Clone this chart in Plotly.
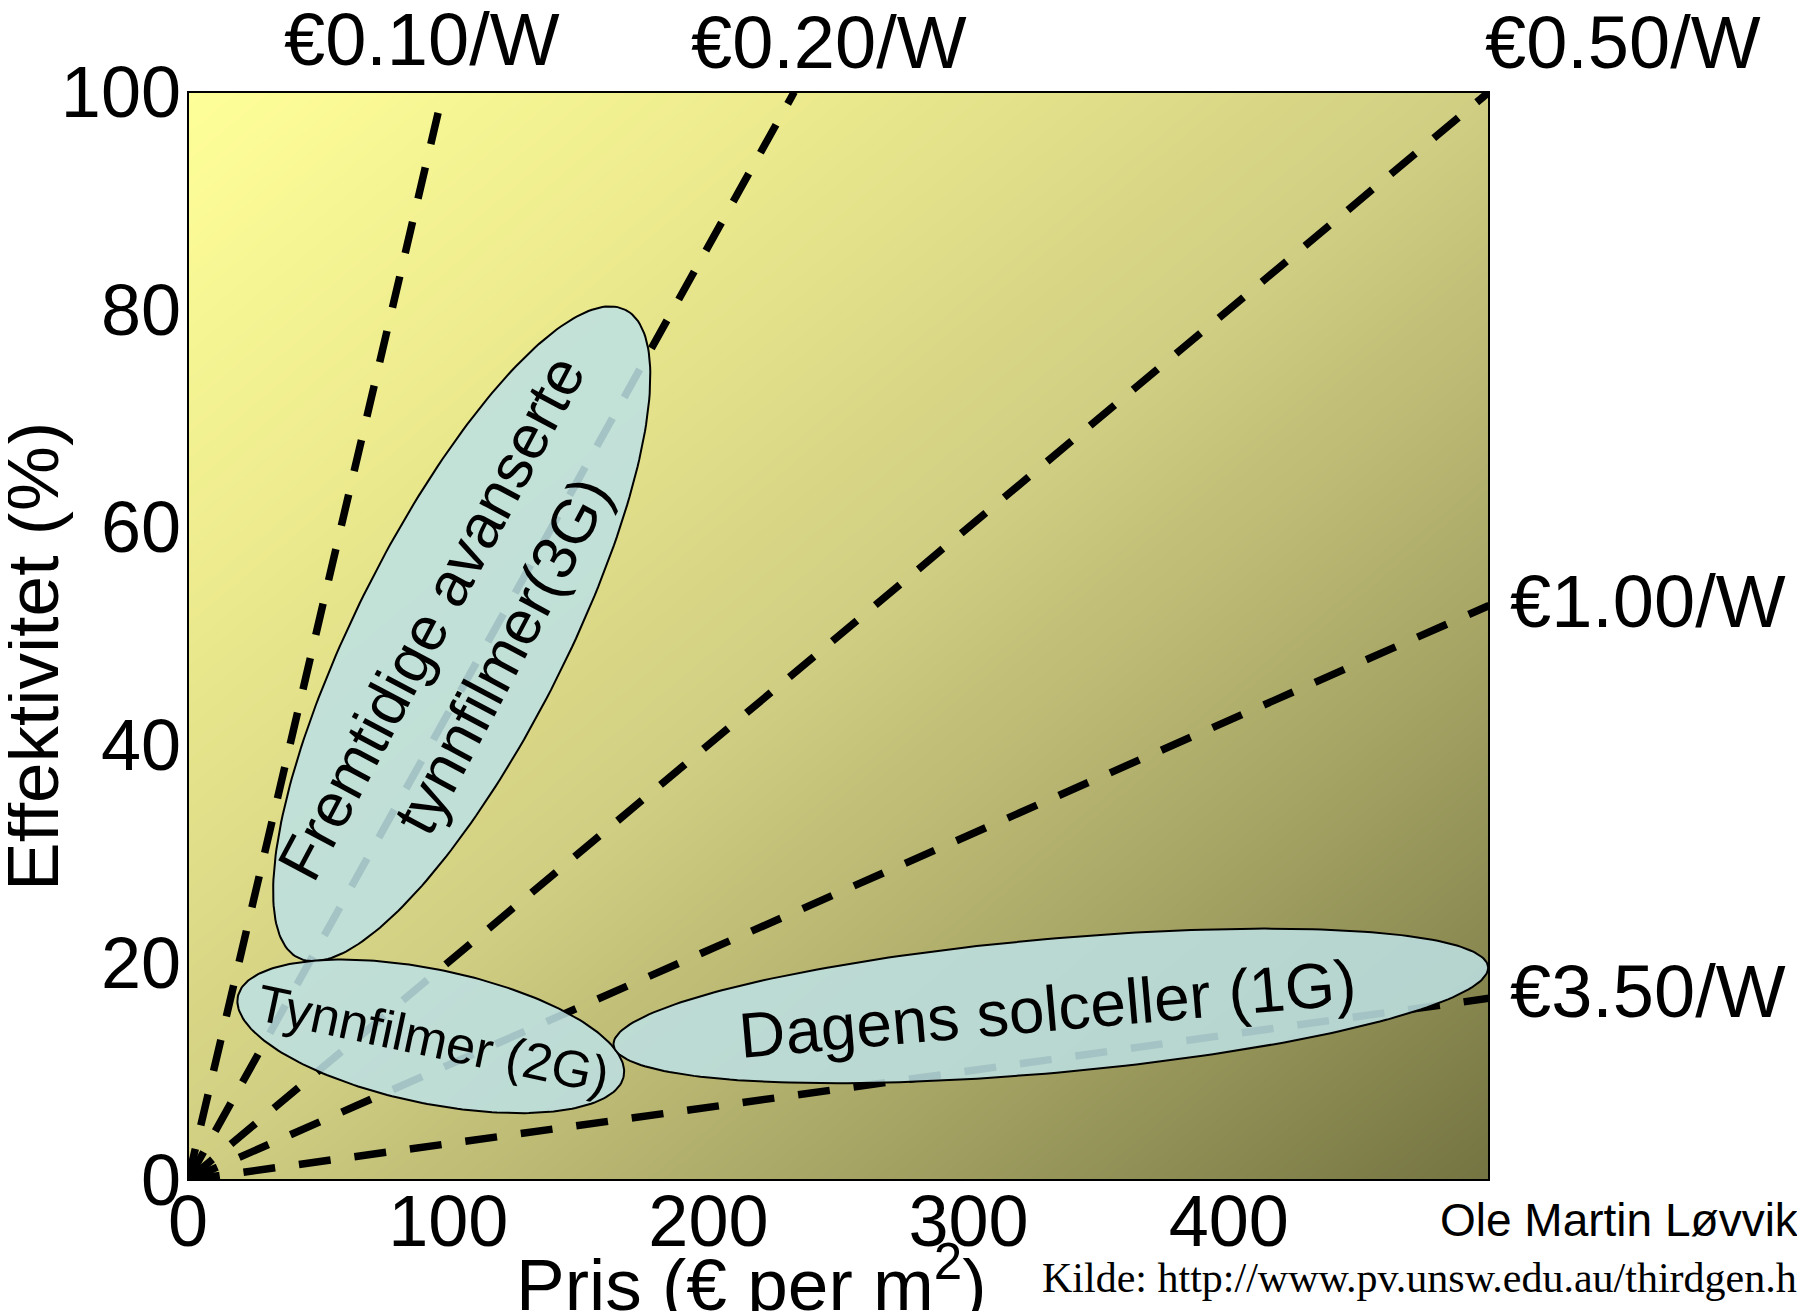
import numpy as np
import plotly.graph_objects as go

# ------------------------------------------------------------------ data
price_labels = ["€0.10/W", "€0.20/W", "€0.50/W", "€1.00/W", "€3.50/W"]
line_end_x = [98, 233, 500, 500, 500]        # Pris (€ per m²) where each line leaves the frame
line_end_y = [100, 100, 100, 52.8, 16.7]     # Effektivitet (%) at that point

x_ticks = [0, 100, 200, 300, 400]
y_ticks = [0, 20, 40, 60, 80, 100]

group_labels = ["Fremtidige avanserte<br>tynnfilmer(3G)", "Tynnfilmer (2G)", "Dagens solceller (1G)"]
group_center_x = [105.2, 93.3, 331.6]
group_center_y = [50.2, 13.2, 16.0]

# ------------------------------------------------------------------ layout geometry / styles
PAGE_OFF = 8                      # browser body margin
W, H = 1805 - PAGE_OFF, 1311 - PAGE_OFF
# plot frame in page pixels
PL, PR, PT, PB = 188, 1489, 92, 1180
L, R, T, B = PL - PAGE_OFF, PR - PAGE_OFF, PT - PAGE_OFF, PB - PAGE_OFF
XMAX, YMAX = 500, 100
PXX = (PR - PL) / XMAX
PXY = (PB - PT) / YMAX

def px(xp):   # page pixel -> paper
    return (xp - PL) / (PR - PL)

def py(yp):
    return (PB - yp) / (PB - PT)

# ellipse shape (semi-axes in px, angle in deg, counter-clockwise)
ell_a = [363, 197, 439]
ell_b = [105, 67, 67]
ell_ang = [63.2, -11.7, 5.1]
text_angle = [-62, 12, -5]
text_size = [62, 52, 64]
text_offset = [(5, 3), (2, 3), (-3, 3)]  # px offset of text from ellipse centre

FONT = "Liberation Sans, Arial, sans-serif"
fig = go.Figure()

# background gradient
fig.add_trace(go.Heatmap(
    x=[0, XMAX], y=[0, YMAX], z=[[0.5, 1.0], [0.0, 0.5]],
    zmin=0, zmax=1, zsmooth="best", showscale=False, hoverinfo="skip",
    colorscale=[[0, "#ffff99"], [0.25, "#ebe98d"], [0.5, "#d0ce82"], [0.75, "#a6a464"], [1, "#747442"]],
))

# price-per-watt lines
for ex, ey in zip(line_end_x, line_end_y):
    fig.add_trace(go.Scatter(
        x=[0, ex], y=[0, ey], mode="lines", hoverinfo="skip",
        line=dict(color="black", width=7.5, dash="32px,24px"),
    ))

# ellipses
t = np.linspace(0, 2 * np.pi, 241)
for cx, cy, a, b, ang in zip(group_center_x, group_center_y, ell_a, ell_b, ell_ang):
    th = np.deg2rad(ang)
    dx = a * np.cos(t) * np.cos(th) - b * np.sin(t) * np.sin(th)
    dy = a * np.cos(t) * np.sin(th) + b * np.sin(t) * np.cos(th)
    fig.add_trace(go.Scatter(
        x=cx + dx / PXX, y=cy + dy / PXY, mode="lines", fill="toself",
        fillcolor="rgba(188,224,226,0.87)", line=dict(color="black", width=2),
        hoverinfo="skip",
    ))

ann = []
for lab, cx, cy, ta, ts, off in zip(group_labels, group_center_x, group_center_y, text_angle, text_size, text_offset):
    ann.append(dict(x=cx + off[0] / PXX, y=cy - off[1] / PXY, xref="x", yref="y", text=lab,
                    textangle=ta, showarrow=False, font=dict(family=FONT, size=ts, color="black"),
                    xanchor="center", yanchor="middle"))

# price labels
lab_pos = [(422, 40, "center"), (829, 42, "center"), (1623, 42, "center"), (1508, 601, "left"), (1508, 991, "left")]
for lab, (xp, yp, xa) in zip(price_labels, lab_pos):
    ann.append(dict(x=px(xp), y=py(yp), xref="paper", yref="paper", text=lab, showarrow=False,
                    xanchor=xa, yanchor="middle", font=dict(family=FONT, size=74, color="black")))

# axis titles
ann.append(dict(x=px(751), y=py(1279), xref="paper", yref="paper", text="Pris (€ per m<sup>2</sup>)",
                showarrow=False, xanchor="center", yanchor="middle",
                font=dict(family=FONT, size=73, color="black")))
ann.append(dict(x=px(32), y=py(657), xref="paper", yref="paper", text="Effektivitet (%)",
                showarrow=False, xanchor="center", yanchor="middle", textangle=-90,
                font=dict(family=FONT, size=73, color="black")))
# credits
ann.append(dict(x=px(1438), y=py(1220), xref="paper", yref="paper", text="Ole Martin Løvvik",
                showarrow=False, xanchor="left", yanchor="middle",
                font=dict(family=FONT, size=46, color="black")))
ann.append(dict(x=px(1040), y=py(1278), xref="paper", yref="paper",
                text="Kilde: http://www.pv.unsw.edu.au/thirdgen.html",
                showarrow=False, xanchor="left", yanchor="middle",
                font=dict(family="Liberation Serif, Times New Roman, serif", size=42, color="black")))

fig.update_layout(
    width=W, height=H,
    margin=dict(l=L, r=W - R, t=T, b=H - B, autoexpand=False),
    paper_bgcolor="white", plot_bgcolor="white",
    showlegend=False,
    annotations=ann,
    shapes=[dict(type="rect", xref="paper", yref="paper", x0=0, y0=0, x1=1, y1=1,
                 line=dict(color="black", width=2), fillcolor="rgba(0,0,0,0)", layer="above")],
    xaxis=dict(range=[0, XMAX], tickvals=x_ticks, ticks="", showgrid=False, zeroline=False,
               showline=False, tickfont=dict(family=FONT, size=72, color="black"), fixedrange=True,
               ticklabelstandoff=-7),
    yaxis=dict(range=[0, YMAX], tickvals=y_ticks, ticks="", showgrid=False, zeroline=False,
               showline=False, tickfont=dict(family=FONT, size=72, color="black"), fixedrange=True,
               ticklabelstandoff=6),
)

fig.write_html("out.html")
